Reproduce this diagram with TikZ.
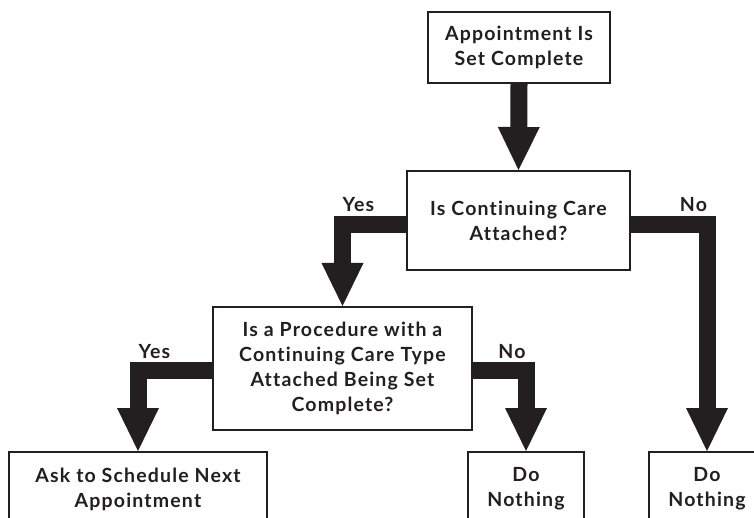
\documentclass[tikz,border=0pt]{standalone}
\usepackage{fontspec}
\setmainfont{Lato}[Ligatures=NoCommon, LetterSpace=6]
\usetikzlibrary{arrows.meta}
\definecolor{ink}{HTML}{231F20}
\begin{document}
\begin{tikzpicture}[x=1pt,y=-1pt,
  every node/.style={font=\bfseries\fontsize{19.5}{25}\selectfont, text=ink},
  box/.style={draw=ink, line width=2pt, fill=white, align=center, inner sep=0pt},
  flow/.style={draw=ink, line width=17pt, line join=miter,
    -{Triangle[width=42pt,length=43pt,line width=0pt]}},
  branch/.style={inner sep=0pt}
]
\useasboundingbox (0,0) rectangle (754,518);
\clip (0,0) rectangle (754,518);

% boxes
\node[box, minimum width=182pt, minimum height=71pt] (start) at (519,47.5)
  {Appointment Is\\Set Complete};
\node[box, minimum width=223pt, minimum height=99pt] (care) at (518.5,220.5)
  {Is Continuing Care\\Attached?};
\node[box, minimum width=259pt, minimum height=123pt] (proc) at (342.5,368.5)
  {Is a Procedure with a\\Continuing Care Type\\Attached Being Set\\Complete?};
\node[box, minimum width=258pt, minimum height=74pt] (ask) at (138,489)
  {Ask to Schedule Next\\Appointment};
\node[box, minimum width=116pt, minimum height=74pt] (none1) at (526,489)
  {Do\\Nothing};
\node[box, minimum width=116pt, minimum height=74pt] (none2) at (707,489)
  {Do\\Nothing};

% connectors
\draw[flow] (start.south) -- (care.north);
\draw[flow] ([yshift=-4pt]care.west) -| (proc.north)
  node[branch, pos=0.5, anchor=base west, xshift=-8.5pt, yshift=12.5pt] (yes1) {Yes};
\draw[flow] ([yshift=-4pt]care.east) -| (none2.north)
  node[branch, pos=0.5, anchor=base east, xshift=8.5pt, yshift=12.5pt] (no1) {No};
\draw[flow] ([yshift=-1.5pt]proc.west) -| (ask.north)
  node[branch, pos=0.5, anchor=base west, xshift=-8pt, yshift=12pt] (yes2) {Yes};
\draw[flow] ([yshift=-1.5pt]proc.east) -| (none1.north)
  node[branch, pos=0.5, anchor=base east, xshift=8pt, yshift=12pt] (no2) {No};
\end{tikzpicture}
\end{document}
